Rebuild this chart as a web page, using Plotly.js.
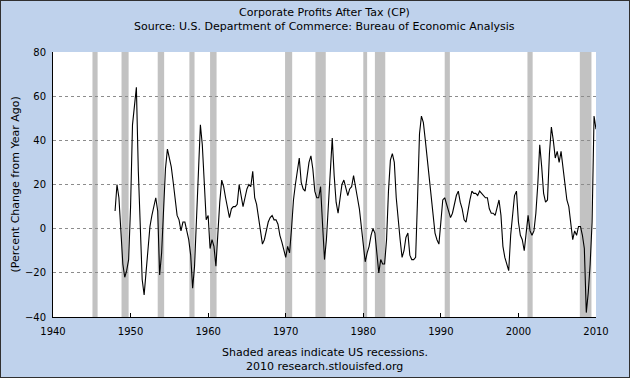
<!DOCTYPE html>
<html>
<head>
<meta charset="utf-8">
<script src="https://cdn.plot.ly/plotly-3.0.1.min.js"></script>
<style>
  html, body { margin: 0; padding: 0; background: #bfd2ec; }
  #chart { width: 628px; height: 376px; border: 1px solid #303030; }
</style>
</head>
<body>
<div id="chart"></div>
<script>
// Corporate Profits After Tax (CP), percent change from year ago, quarterly
const startYear = 1948; // first observation: 1948 Q1
const values = [
  // 1948
  8, 20, 14, 1,
  // 1949
  -16, -22, -19, -14,
  // 1950
  10, 47, 57, 64,
  // 1951
  26, -2, -23, -30,
  // 1952
  -19, -6, 1, 6,
  // 1953
  11, 14, 8, -21,
  // 1954
  -11, 8, 27, 36,
  // 1955
  32, 28, 21, 14,
  // 1956
  6, 4, -1, 3,
  // 1957
  3, -1, -5, -12,
  // 1958
  -27, -17, 2, 28,
  // 1959
  47, 38, 20, 4,
  // 1960
  6, -9, -5, -8,
  // 1961
  -17, 0, 12, 22,
  // 1962
  19, 14, 10, 5,
  // 1963
  9, 10, 10, 11,
  // 1964
  20, 15, 10, 14,
  // 1965
  18, 20, 19, 26,
  // 1966
  14, 11, 5, -3,
  // 1967
  -7, -5, -1, 3,
  // 1968
  5, 6, 4, 4,
  // 1969
  2, -3, -6, -10,
  // 1970
  -13, -8, -11, 0,
  // 1971
  13, 20, 27, 32,
  // 1972
  21, 18, 17, 24,
  // 1973
  30, 33, 27, 17,
  // 1974
  14, 14, 19, 2,
  // 1975
  -14, -5, 12, 27,
  // 1976
  41, 24, 12, 7,
  // 1977
  15, 20, 22, 19,
  // 1978
  15, 18, 19, 24,
  // 1979
  18, 14, 9, 1,
  // 1980
  -8, -15, -11, -8,
  // 1981
  -3, 0, -2, -11,
  // 1982
  -20, -14, -16, -16,
  // 1983
  -5, 17, 31, 34,
  // 1984
  30, 14, 3, -5,
  // 1985
  -13, -10, -4, -2,
  // 1986
  -12, -14, -14, -13,
  // 1987
  14, 43, 51, 48,
  // 1988
  40, 32, 22, 17,
  // 1989
  8, -2, -5, -7,
  // 1990
  3, 13, 14, 11,
  // 1991
  7, 5, 7, 11,
  // 1992
  15, 17, 12, 9,
  // 1993
  4, 3, 9, 13,
  // 1994
  17, 16, 16, 15,
  // 1995
  17, 16, 15, 14,
  // 1996
  14, 9, 7, 7,
  // 1997
  6, 9, 13, 6,
  // 1998
  -8, -13, -16, -19,
  // 1999
  -3, 8, 15, 17,
  // 2000
  3, -3, -5, -10,
  // 2001
  -1, 6, -1, -3,
  // 2002
  -1, 7, 20, 38,
  // 2003
  28, 16, 12, 13,
  // 2004
  34, 46, 40, 32,
  // 2005
  35, 30, 35, 28,
  // 2006
  20, 13, 10, 2,
  // 2007
  -5, -1, -3, 1,
  // 2008
  1, -3, -9, -38,
  // 2009
  -29, -16, 3, 51,
  // 2010
  45
];

// NBER recessions (peak month, trough month)
const recessionStarts = ['1945-02-01','1948-11-01','1953-07-01','1957-08-01','1960-04-01','1969-12-01','1973-11-01','1980-01-01','1981-07-01','1990-07-01','2001-03-01','2007-12-01'];
const recessionEnds   = ['1945-10-01','1949-10-01','1954-05-01','1958-04-01','1961-02-01','1970-11-01','1975-03-01','1980-07-01','1982-11-01','1991-03-01','2001-11-01','2009-06-01'];

const tickYears = ['1940','1950','1960','1970','1980','1990','2000','2010'];

const titleLine1 = 'Corporate Profits After Tax (CP)';
const titleLine2 = 'Source: U.S. Department of Commerce: Bureau of Economic Analysis';
const yTitle = '(Percent Change from Year Ago)';
const note1 = 'Shaded areas indicate US recessions.';
const note2 = '2010 research.stlouisfed.org';

// quarterly dates (first month of each quarter)
const dates = values.map((v, i) => {
  const y = startYear + Math.floor(i / 4);
  const m = (i % 4) * 3 + 1;
  return y + '-' + String(m).padStart(2, '0') + '-01';
});

const FONT = 'DejaVu Sans, Verdana, sans-serif';

const trace = {
  x: dates,
  y: values,
  type: 'scatter',
  mode: 'lines',
  line: { color: '#000000', width: 1.1 },
  hoverinfo: 'skip'
};

const shapes = recessionStarts.map((s, i) => ({
  type: 'rect', xref: 'x', yref: 'paper',
  x0: s, x1: recessionEnds[i], y0: 0, y1: 1,
  fillcolor: '#c2c2c2', line: { width: 0 }, layer: 'below'
}));

const W = 628, H = 376;
const mL = 52, mR = 33, mT = 51, mB = 60;
const plotH = H - mT - mB;
const py = (pix) => (H - mB - pix) / plotH; // pixel y (from top) to paper y

const annotations = [
  { text: titleLine1, x: 0.5, xref: 'paper', y: py(11), yref: 'paper', showarrow: false, xanchor: 'center', yanchor: 'middle', font: { family: FONT, size: 11, color: '#000' } },
  { text: titleLine2, x: 0.5, xref: 'paper', y: py(25), yref: 'paper', showarrow: false, xanchor: 'center', yanchor: 'middle', font: { family: FONT, size: 11, color: '#000' } },
  { text: note1, x: 0.5, xref: 'paper', y: py(351), yref: 'paper', showarrow: false, xanchor: 'center', yanchor: 'middle', font: { family: FONT, size: 11, color: '#000' } },
  { text: note2, x: 0.5, xref: 'paper', y: py(365), yref: 'paper', showarrow: false, xanchor: 'center', yanchor: 'middle', font: { family: FONT, size: 11, color: '#000' } },
  { text: yTitle, x: (14 - mL) / (W - mL - mR), xref: 'paper', y: 0.5, yref: 'paper', showarrow: false, textangle: -90, xanchor: 'center', yanchor: 'middle', font: { family: FONT, size: 11, color: '#000' } }
];

const layout = {
  width: W, height: H,
  margin: { l: mL, r: mR, t: mT, b: mB, pad: 0 },
  paper_bgcolor: '#bfd2ec',
  plot_bgcolor: '#ffffff',
  showlegend: false,
  xaxis: {
    type: 'date',
    range: ['1940-01-01', '2010-01-01'],
    tickmode: 'array',
    tickvals: tickYears.map(y => y + '-01-01'),
    ticktext: tickYears,
    ticks: 'inside', ticklen: 4, tickcolor: '#000',
    ticklabelstandoff: 5,
    showgrid: false, zeroline: false,
    showline: true, linecolor: '#000', linewidth: 1,
    tickfont: { family: FONT, size: 10, color: '#000' }
  },
  yaxis: {
    range: [-40, 80],
    tickmode: 'linear', tick0: -40, dtick: 20,
    ticks: '', showgrid: true, gridcolor: '#8c8c8c', griddash: 'dot', gridwidth: 1,
    ticklabelstandoff: 4,
    zeroline: false,
    showline: true, linecolor: '#000', linewidth: 1,
    tickfont: { family: FONT, size: 10, color: '#000' }
  },
  shapes: shapes,
  annotations: annotations
};

Plotly.newPlot('chart', [trace], layout, { staticPlot: true, displayModeBar: false });
</script>
</body>
</html>
